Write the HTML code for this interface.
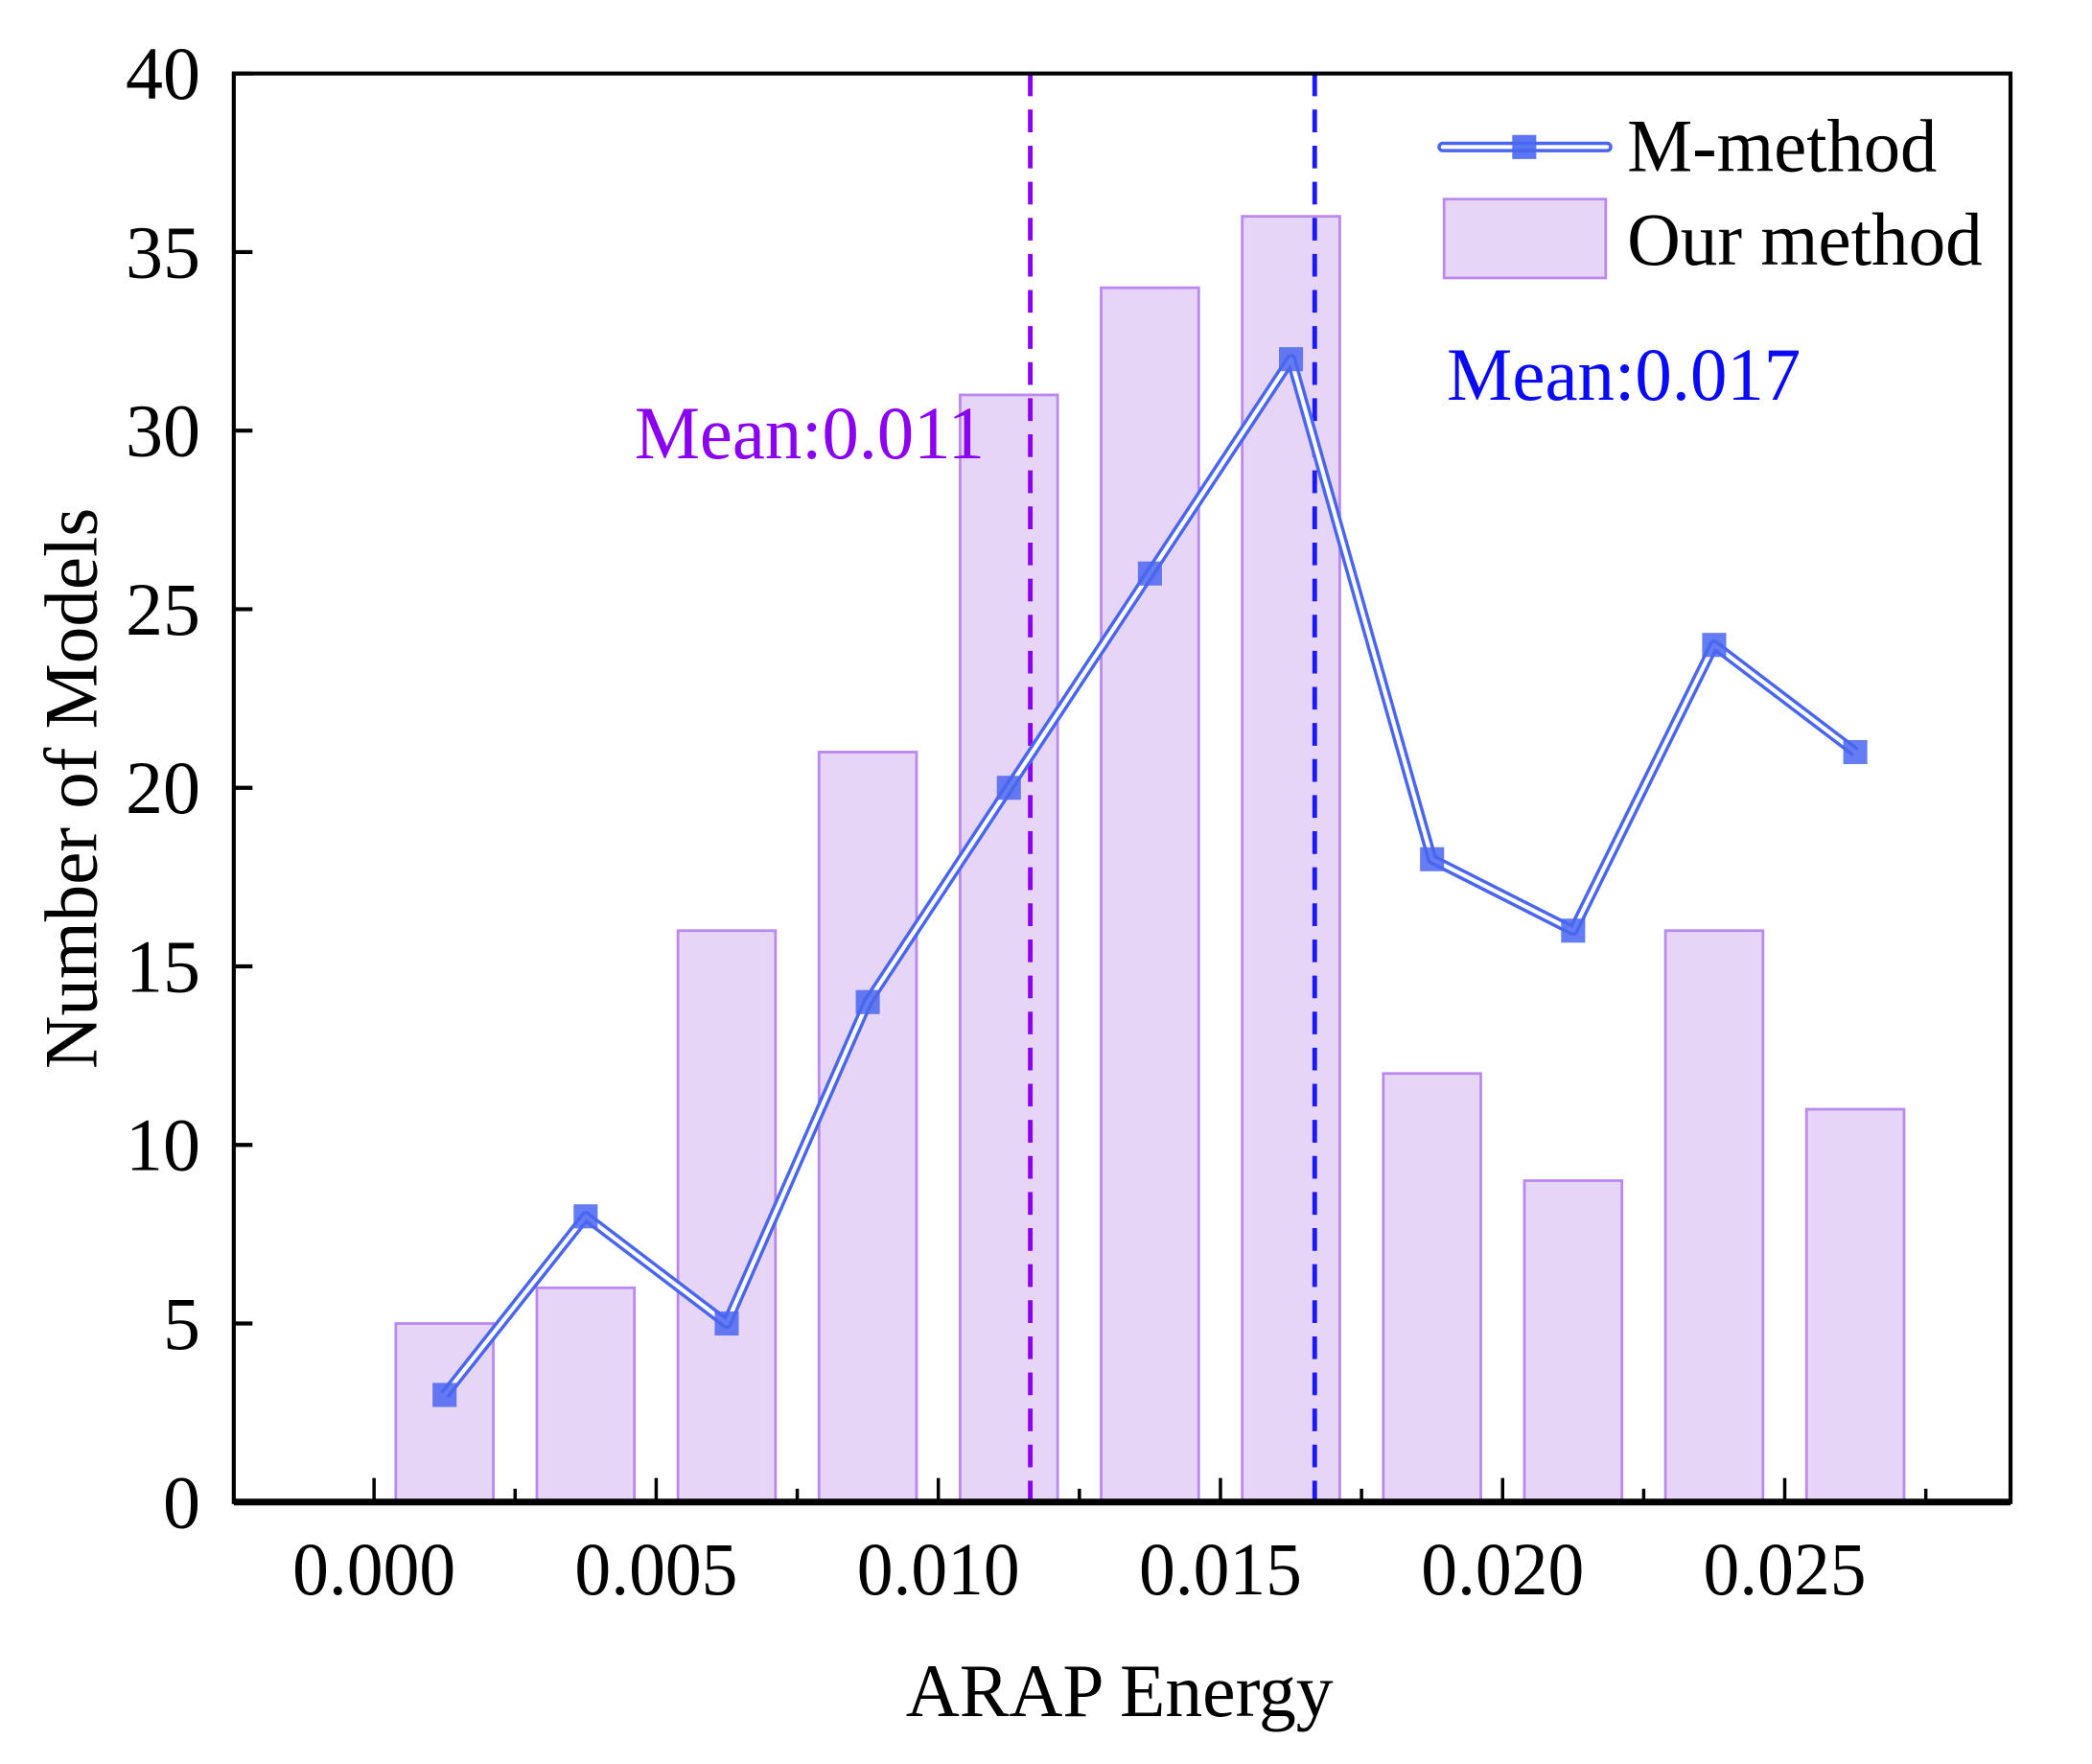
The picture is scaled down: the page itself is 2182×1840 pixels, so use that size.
<!DOCTYPE html>
<html><head><meta charset="utf-8"><style>
html,body{margin:0;padding:0;background:#fff}
svg{display:block}
text{font-family:"Liberation Serif",serif}
</style></head><body>
<svg id="chart" width="2182" height="1840" viewBox="0 0 1566 1320" preserveAspectRatio="none" xmlns="http://www.w3.org/2000/svg">
<g id="bars"></g>
<g id="means"></g>
<g id="line"></g>
<g id="axes"></g>
<g>
  <line x1="1080" y1="110" x2="1203" y2="110" stroke="#4a66f0" stroke-width="8" stroke-linecap="round"/>
  <line x1="1080" y1="110" x2="1203" y2="110" stroke="#fff" stroke-width="3" stroke-linecap="round"/>
  <rect x="1132" y="101" width="18" height="18" fill="#4a66f0" opacity="0.9"/>
  <text x="1218" y="128" font-size="56" textLength="232" lengthAdjust="spacingAndGlyphs">M-method</text>
  <rect x="1081" y="149" width="121" height="59" fill="#e6d5f5" stroke="#bb88f0" stroke-width="2"/>
  <text x="1218" y="198" font-size="56" textLength="266" lengthAdjust="spacingAndGlyphs">Our method</text>
</g>
<text x="475" y="343" font-size="56" fill="#8a00f0" textLength="262" lengthAdjust="spacingAndGlyphs">Mean:0.011</text>
<text x="1083" y="299" font-size="56" fill="#0a0af5" textLength="265" lengthAdjust="spacingAndGlyphs">Mean:0.017</text>
<text x="838" y="1284" font-size="56" text-anchor="middle" textLength="320" lengthAdjust="spacingAndGlyphs">ARAP Energy</text>
<text transform="translate(72,590) rotate(-90)" font-size="56" text-anchor="middle" textLength="420" lengthAdjust="spacingAndGlyphs">Number of Models</text>
</svg>
<script>
const categories = [0.00125,0.00375,0.00625,0.00875,0.01125,0.01375,0.01625,0.01875,0.02125,0.02375,0.02625];
const ourMethod = [5,6,16,21,31,34,36,12,9,16,11];
const mMethod = [3,8,5,14,20,26,32,18,16,24,21];
const yTicks = [0,5,10,15,20,25,30,35,40];
const xTicks = [0,0.005,0.01,0.015,0.02,0.025];
const xTickLabels = ["0.000","0.005","0.010","0.015","0.020","0.025"];
const meanValues = [0.01163,0.01667];
const meanColors = ["#8a00f0","#1a1af5"];

const NS = "http://www.w3.org/2000/svg";
const L=175,R=1505,T=55,B=1124;
function xs(v){return 280 + v/0.005*211.2;}
function ys(v){return B - v*(B-T)/40;}
function mk(tag,attrs,parent){const e=document.createElementNS(NS,tag);for(const k in attrs)e.setAttribute(k,attrs[k]);parent.appendChild(e);return e;}

const barsG=document.getElementById('bars');
const bw=73;
categories.forEach((c,i)=>{
  const r=mk('rect',{x:xs(c)-bw/2,y:ys(ourMethod[i]),width:bw,height:ys(0)-ys(ourMethod[i]),fill:'#e6d5f5',stroke:'#bb88f0','stroke-width':2},barsG);
  
  
});

const meansG=document.getElementById('means');
meanValues.forEach((m,i)=>{
  const l=mk('line',{x1:xs(m),x2:xs(m),y1:T,y2:B,stroke:meanColors[i],'stroke-width':3.5,'stroke-dasharray':'17 10'},meansG);
  
  
});

const lineG=document.getElementById('line');
const pts=categories.map((c,i)=>xs(c)+','+ys(mMethod[i])).join(' ');
mk('polyline',{points:pts,fill:'none',stroke:'#4a66f0','stroke-width':8,'stroke-linejoin':'round'},lineG);
mk('polyline',{points:pts,fill:'none',stroke:'#fff','stroke-width':3,'stroke-linejoin':'round'},lineG);
categories.forEach((c,i)=>{
  const s=mk('rect',{x:xs(c)-9,y:ys(mMethod[i])-9,width:18,height:18,fill:'#4a66f0',opacity:0.85},lineG);
  
  
});

const ax=document.getElementById('axes');
mk('rect',{x:L,y:T,width:R-L,height:B-T,fill:'none',stroke:'#000','stroke-width':3},ax);
mk('line',{x1:L,x2:R,y1:B,y2:B,stroke:'#000','stroke-width':5},ax);
yTicks.forEach(t=>{
  mk('line',{x1:L,x2:L+14,y1:ys(t),y2:ys(t),stroke:'#000','stroke-width':3},ax);
  const tx=mk('text',{x:150,y:ys(t)+19,'font-size':56,'text-anchor':'end'},ax);
  tx.textContent=t;
  
  
});
xTicks.forEach((t,i)=>{
  mk('line',{x1:xs(t),x2:xs(t),y1:B,y2:B-18,stroke:'#000','stroke-width':2.5},ax);
  mk('line',{x1:xs(t+0.0025),x2:xs(t+0.0025),y1:B,y2:B-10,stroke:'#000','stroke-width':2.5},ax);
  const tx=mk('text',{x:xs(t),y:1193,'font-size':56,'text-anchor':'middle',textLength:122,lengthAdjust:'spacingAndGlyphs'},ax);
  tx.textContent=xTickLabels[i];
  
  
});
</script>
</body></html>
